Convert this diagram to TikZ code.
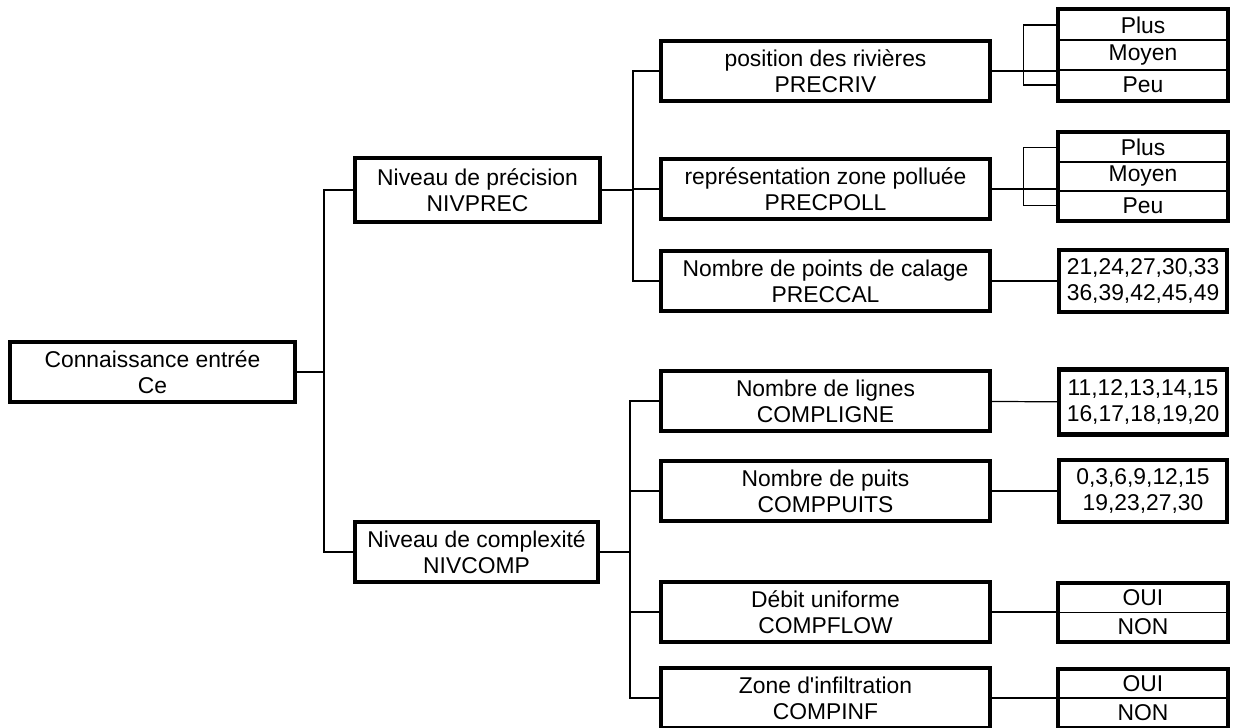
\documentclass[tikz,border=0pt]{standalone}
\usepackage{fontspec}
\setmainfont{Liberation Sans}
\usepackage{tikz}

\begin{document}
\begin{tikzpicture}[x=0.02cm,y=-0.02cm,
		font=\fontsize{13}{14.9}\selectfont,
		box/.style={draw,line width=2.4pt,align=center,inner sep=0pt,minimum height=1.2cm},
		lvl/.style={box,minimum width=6.58cm},
		choice/.style={draw,line width=1pt,inner sep=0pt,minimum width=3.36cm,minimum height=#1},
		choice/.default=0.6cm,
		frame/.style={line width=2.4pt},
		link/.style={line width=0.7pt}]
	\useasboundingbox (0,0) rectangle (1240,727);
	\node[box,minimum width=5.7cm] (ce) at (152.5,372) {Connaissance entrée\\Ce};
	\node[box,minimum width=4.9cm,minimum height=1.28cm] (nivprec) at (477.5,190) {Niveau de précision\\NIVPREC};
	\node[box,minimum width=4.86cm] (nivcomp) at (476.5,552) {Niveau de complexité\\NIVCOMP};
	\node[lvl] (precriv) at (825.5,71) {position des rivières\\PRECRIV};
	\node[lvl] (precpoll) at (825.5,189) {représentation zone polluée\\PRECPOLL};
	\node[lvl] (preccal) at (825.5,281) {Nombre de points de calage\\PRECCAL};
	\node[lvl] (compligne) at (825.5,401) {Nombre de lignes\\COMPLIGNE};
	\node[lvl] (comppuits) at (825.5,491) {Nombre de puits\\COMPPUITS};
	\node[lvl] (compflow) at (825.5,612) {Débit uniforme\\COMPFLOW};
	\node[lvl] (compinf) at (825.5,698) {Zone d\textquotesingle infiltration\\COMPINF};
	\node[choice] (rivplus) at (1143,25) {Plus};
	\node[choice] (rivmoyen) at (1143,55) {Moyen};
	\node[choice] (rivpeu) at (1143,85) {Peu};
	\draw[frame] (rivplus.north west) rectangle (rivpeu.south east);
	\node[choice=0.58cm] (pollplus) at (1143,147.5) {Plus};
	\node[choice=0.58cm] (pollmoyen) at (1143,176.5) {Moyen};
	\node[choice=0.58cm] (pollpeu) at (1143,205.5) {Peu};
	\draw[frame] (pollplus.north west) rectangle (pollpeu.south east);
	\node[box,minimum width=3.36cm,minimum height=1.24cm] (calval) at (1143,281) {21,24,27,30,33\\36,39,42,45,49};
	\node[box,minimum width=3.36cm,minimum height=1.3cm] (ligneval) at (1143,402) {11,12,13,14,15\\16,17,18,19,20};
	\node[box,minimum width=3.36cm,minimum height=1.24cm] (puitsval) at (1143,491) {0,3,6,9,12,15\\19,23,27,30};
	\node[choice=0.58cm] (flowoui) at (1143,598) {OUI};
	\node[choice=0.58cm] (flownon) at (1143,627) {NON};
	\draw[frame] (flowoui.north west) rectangle (flownon.south east);
	\node[choice=0.57cm] (infoui) at (1143,684) {OUI};
	\node[choice=0.57cm] (infnon) at (1143,712.5) {NON};
	\draw[frame] (infoui.north west) rectangle (infnon.south east);
	\draw[link] (ce.east) -- ++(27,0) |- (nivprec.west);
	\draw[link] (ce.east) -- ++(27,0) |- (nivcomp.west);
	\foreach \c in {precriv,precpoll,preccal}
		\draw[link] (nivprec.east) -- ++(31,0) |- (\c.west);
	\foreach \c in {compligne,comppuits,compflow,compinf}
		\draw[link] (nivcomp.east) -- ++(30,0) |- (\c.west);
	\draw[link] (precriv.east) -- (precriv.east -| rivmoyen.west);
	\draw[link] (rivplus.west) -- ++(-35,0) |- (rivpeu.west);
	\draw[link] (precpoll.east) -- (precpoll.east -| pollmoyen.west);
	\draw[link] (pollplus.west) -- ++(-35,0) |- (pollpeu.west);
	\draw[link] (preccal) -- (calval);
	\draw[link] (compligne) -- (ligneval);
	\draw[link] (comppuits) -- (puitsval);
	\draw[link] (compflow.east) -- (compflow.east -| flowoui.west);
	\draw[link] (compinf.east) -- (compinf.east -| infoui.west);
\end{tikzpicture}
\end{document}
